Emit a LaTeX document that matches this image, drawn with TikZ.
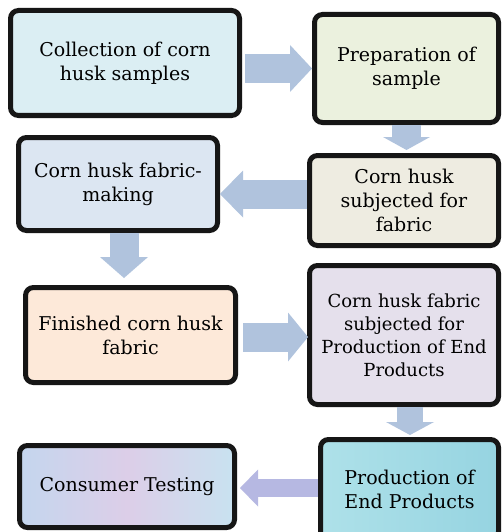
\documentclass[tikz,border=0pt]{standalone}
\usepackage{fontspec}
\setmainfont{DejaVu Serif}
\usetikzlibrary{arrows.meta,calc}
\definecolor{edge}{RGB}{22,22,22}
\definecolor{arrowblue}{RGB}{176,195,221}
\definecolor{arrowlav}{RGB}{182,184,226}
\definecolor{f1}{RGB}{219,238,243}
\definecolor{f2}{RGB}{235,241,222}
\definecolor{f3}{RGB}{238,236,225}
\definecolor{f4}{RGB}{220,230,242}
\definecolor{f5}{RGB}{253,233,217}
\definecolor{f6}{RGB}{229,224,236}
\definecolor{f7a}{RGB}{174,225,233}
\definecolor{f7b}{RGB}{150,212,225}
\definecolor{f8a}{RGB}{196,214,238}
\definecolor{f8m}{RGB}{220,206,232}
\definecolor{f8b}{RGB}{200,226,240}
\begin{document}
\begin{tikzpicture}[x=1pt,y=-1pt,
  box/.style={draw=edge, line width=5pt, rounded corners=8pt, align=center,
    font=\fontsize{19}{24}\selectfont, inner sep=0pt},
  flow/.style={draw=arrowblue, line width=29pt,
    -{Triangle[width=47pt,length=22pt,line width=0pt]}}]
\useasboundingbox (0,0) rectangle (501,532);
\clip (0,0) rectangle (501,532);
\fill[white] (0,0) rectangle (501,532);
% boxes
\node[box, fill=f1, minimum width=229pt, minimum height=105pt] (b1) at (125,63)
  {Collection of corn\\husk samples};
\node[box, fill=f2, minimum width=184pt, minimum height=108pt] (b2) at (406.5,68.5)
  {Preparation of\\sample};
\node[box, fill=f3, minimum width=189pt, minimum height=90pt] (b3) at (404,200.5)
  {Corn husk\\subjected for\\fabric};
\node[box, fill=f4, minimum width=199pt, minimum height=93pt] (b4) at (118,184)
  {Corn husk fabric-\\making};
\node[box, fill=f5, minimum width=210pt, minimum height=95pt] (b5) at (130.5,335)
  {Finished corn husk\\fabric};
\node[box, fill=f6, minimum width=189pt, minimum height=139pt,
  font=\fontsize{18}{23}\selectfont] (b6) at (404,335)
  {Corn husk fabric\\subjected for\\Production of End\\Products};
\node[box, left color=f7a, right color=f7b, minimum width=178pt, minimum height=100pt] (b7) at (409.5,489.5)
  {Production of\\End Products};
\node[box, left color=f8a, right color=f8b, middle color=f8m, minimum width=215pt, minimum height=82pt] (b8) at (127,486.5)
  {Consumer Testing};
% arrows
\draw[flow] ($(b1.east |- b2.west)+(3,0)$) -- (b2.west);
\draw[flow, -{Triangle[width=47pt,length=13pt,line width=0pt]}]
  (b2.south) -- ($(b2.south |- b3.north)+(0,-3)$);
\draw[flow, -{Triangle[width=47pt,length=23pt,line width=0pt]}]
  ($(b3.west)+(0,-6.5)$) -- ($(b4.east |- b3.west)+(0,-6.5)$);
\draw[flow, -{Triangle[width=48pt,length=21pt,line width=0pt]}]
  ($(b4.south)+(6,0)$) -- ($(b4.south |- b5.north)+(6,-7)$);
\draw[flow, -{Triangle[width=49pt,length=20pt,line width=0pt]}]
  ($(b5.east)+(5,2)$) -- ($(b6.west |- b5.east)+(1,2)$);
\draw[flow, line width=26pt, -{Triangle[width=48pt,length=13pt,line width=0pt]}]
  ($(b6.south)+(6,0)$) -- ($(b6.south |- b7.north)+(6,-2)$);
\draw[flow, draw=arrowlav, line width=18pt, -{Triangle[width=37pt,length=18pt,line width=0pt]}]
  ($(b7.west |- b8.east)+(0,1.5)$) -- ($(b8.east)+(3,1.5)$);
\end{tikzpicture}
\end{document}
